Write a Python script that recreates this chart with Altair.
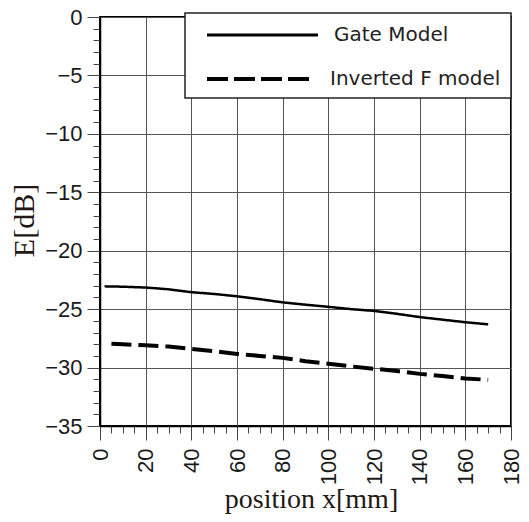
import altair as alt
import pandas as pd

gate_x = [2, 10, 20, 30, 40, 50, 60, 70, 80, 90, 100, 110, 120, 130, 140, 150, 160, 170]
gate_e = [-23.05, -23.08, -23.15, -23.3, -23.55, -23.7, -23.9, -24.15, -24.42, -24.62,
          -24.8, -25.0, -25.15, -25.4, -25.68, -25.9, -26.12, -26.3]
inv_x = [5, 10, 20, 30, 40, 50, 60, 70, 80, 90, 100, 110, 120, 130, 140, 150, 160, 170]
inv_e = [-27.97, -28.0, -28.1, -28.2, -28.4, -28.6, -28.83, -29.0, -29.17, -29.45,
         -29.68, -29.9, -30.1, -30.3, -30.54, -30.72, -30.93, -31.05]
series_names = ["Gate Model", "Inverted F model"]
x_ticks = list(range(0, 181, 5))
y_ticks = list(range(-35, 1, 1))

df = pd.concat([
    pd.DataFrame({"x": gate_x, "E": gate_e, "series": series_names[0]}),
    pd.DataFrame({"x": inv_x, "E": inv_e, "series": series_names[1]}),
])

x_axis = alt.Axis(
    values=x_ticks, title="position x[mm]",
    labelExpr="datum.value % 20 === 0 ? datum.label : ''",
    labelAngle=-90, labelAlign="right", labelBaseline="middle",
    labelFont="Liberation Sans", labelFontSize=22, labelColor="#1a1a1a", labelPadding=8,
    labelOverlap=False, labelFlush=False,
    tickSize={"condition": {"test": "datum.value % 20 === 0", "value": 14}, "value": 7},
    tickColor="#444", tickWidth=1,
    gridOpacity={"condition": {"test": "datum.value % 20 === 0", "value": 1}, "value": 0},
    gridColor="#555", gridWidth=1,
    domainColor="#000", domainWidth=1.5,
    titleFont="Liberation Serif", titleFontSize=28, titleFontWeight="normal", titleColor="#231815",
    titleX=211, titleY=81, titleBaseline="alphabetic", titleAlign="center",
)
y_axis = alt.Axis(
    values=y_ticks, title="E[dB]",
    labelExpr="datum.value % 5 === 0 ? datum.label : ''",
    labelFont="Liberation Sans", labelFontSize=22, labelColor="#1a1a1a", labelPadding=5,
    labelOverlap=False, labelFlush=False,
    tickSize={"condition": {"test": "datum.value % 5 === 0", "value": 13}, "value": 7},
    tickColor="#444", tickWidth=1,
    gridOpacity={"condition": {"test": "datum.value % 5 === 0", "value": 1}, "value": 0},
    gridColor="#555", gridWidth=1,
    domainColor="#000", domainWidth=1.5,
    titleFont="Liberation Serif", titleFontSize=30, titleFontWeight="normal", titleColor="#231815",
    titleX=-76, titleY=203, titleBaseline="middle", titleAlign="center", titleAngle=-90,
)

lines = alt.Chart(df).mark_line(color="black", clip=False).encode(
    x=alt.X("x:Q", scale=alt.Scale(domain=[0, 180], nice=False), axis=x_axis),
    y=alt.Y("E:Q", scale=alt.Scale(domain=[-35, 0], nice=False), axis=y_axis),
    strokeDash=alt.StrokeDash("series:N", scale=alt.Scale(domain=series_names, range=[[1, 0], [20, 7]]), legend=None),
    strokeWidth=alt.StrokeWidth("series:N", scale=alt.Scale(domain=series_names, range=[2.5, 4]), legend=None),
    detail="series:N",
)

one = pd.DataFrame({"k": [0]})
legend_box = alt.Chart(one).mark_rect(fill="white", stroke="#222", strokeWidth=1.5).encode(
    x=alt.value(85), x2=alt.value(411), y=alt.value(-4), y2=alt.value(81),
)
leg_solid = alt.Chart(one).mark_rule(color="black", strokeWidth=3).encode(
    x=alt.value(107), x2=alt.value(218), y=alt.value(18),
)
leg_dash = alt.Chart(one).mark_rule(color="black", strokeWidth=4, strokeDash=[21, 6]).encode(
    x=alt.value(107), x2=alt.value(210), y=alt.value(62),
)
leg_t1 = alt.Chart(pd.DataFrame({"t": [series_names[0]]})).mark_text(
    align="left", baseline="middle", font="DejaVu Sans", fontSize=20, color="#222",
).encode(x=alt.value(234), y=alt.value(18), text="t:N")
leg_t2 = alt.Chart(pd.DataFrame({"t": [series_names[1]]})).mark_text(
    align="left", baseline="middle", font="DejaVu Sans", fontSize=20, color="#222",
).encode(x=alt.value(230), y=alt.value(62), text="t:N")

chart = alt.layer(lines, legend_box, leg_solid, leg_dash, leg_t1, leg_t2).properties(
    width=411, height=409,
    padding={"left": 92, "top": 9, "right": 10, "bottom": 88},
    autosize=alt.AutoSizeParams(type="none"),
).configure_view(stroke="#000", strokeWidth=2)

chart.save("out.html", embed_options={"renderer": "svg", "actions": False})
